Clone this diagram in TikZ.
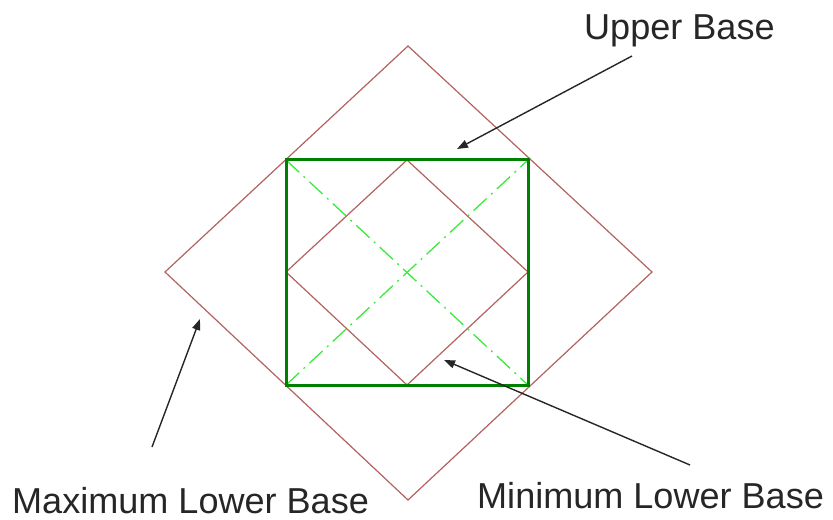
\documentclass[tikz,border=0pt]{standalone}
\usepackage{fontspec}
\setmainfont{Liberation Sans}
\usetikzlibrary{arrows.meta}
\definecolor{diamondred}{RGB}{178,98,96}
\definecolor{boxgreen}{RGB}{0,128,0}
\definecolor{diaggreen}{RGB}{60,235,60}
\tikzset{
  diamondline/.style={draw=diamondred, line width=1.2bp, line join=miter},
  boxline/.style={draw=boxgreen, line width=3bp},
  diagline/.style={draw=diaggreen, line width=1.3bp, dash pattern=on 18bp off 6bp on 2bp off 6bp},
  pointer/.style={draw=black!85, line width=1.4bp, -{Triangle[length=11bp,width=8bp]}},
  label/.style={inner sep=0pt, anchor=base west, font=\fontsize{36.2}{40}\selectfont, text=black!85}
}
\begin{document}
\begin{tikzpicture}[x=1bp,y=-1bp]
\useasboundingbox (0,0) rectangle (833,520);
% outer diamond (Maximum Lower Base)
\coordinate (ot) at (408,46);
\coordinate (or) at (652,272);
\coordinate (ob) at (408,500);
\coordinate (ol) at (165,272);
\draw[diamondline] (ot) -- (or) -- (ob) -- (ol) -- cycle;
% green rectangle (Upper Base)
\coordinate (rtl) at (286,160);
\coordinate (rtr) at (528,160);
\coordinate (rbr) at (528,385);
\coordinate (rbl) at (286,385);
% inner diamond (Minimum Lower Base)
\coordinate (it) at (407,160);
\coordinate (ir) at (528,272);
\coordinate (ib) at (407,385);
\coordinate (il) at (286,272);
\draw[diamondline] (it) -- (ir) -- (ib) -- (il) -- cycle;
% diagonals
\draw[diagline] (rtl) -- (rbr);
\draw[diagline] (rbl) -- (rtr);
\draw[boxline] (rtl) -- (rtr) -- (rbr) -- (rbl) -- cycle;
% labels
\node[label] (ub) at (584,40) {Upper Base};
\node[label] (mx) at (12,513) {Maximum Lower Base};
\node[label] (mn) at (477,508) {Minimum Lower Base};
% arrow ends
\coordinate (ubs) at (632,56);
\coordinate (ubt) at (457,149);
\coordinate (mxs) at (152,447);
\coordinate (mxt) at (200,319);
\coordinate (mns) at (690,465);
\coordinate (mnt) at (444,360);
\draw[pointer] (ubs) -- (ubt);
\draw[pointer] (mxs) -- (mxt);
\draw[pointer] (mns) -- (mnt);
\end{tikzpicture}
\end{document}
